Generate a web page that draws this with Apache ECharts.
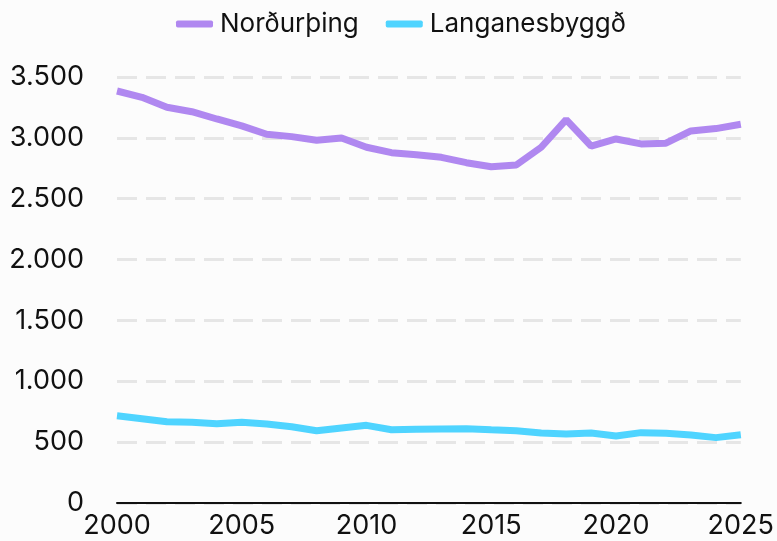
<!DOCTYPE html>
<html><head><meta charset="utf-8">
<script src="https://cdn.jsdelivr.net/npm/echarts@6/dist/echarts.min.js"></script>
<style>html,body{margin:0;padding:0;background:#fcfcfc}#c{width:777px;height:541px}</style>
</head><body><div id="c"></div>
<script>
const years = [2000,2001,2002,2003,2004,2005,2006,2007,2008,2009,2010,2011,2012,2013,2014,2015,2016,2017,2018,2019,2020,2021,2022,2023,2024,2025];
const nordurthing = [3385,3333,3251,3215,3155,3098,3030,3010,2980,2999,2923,2878,2862,2840,2796,2763,2777,2923,3150,2933,2991,2950,2956,3057,3076,3112];
const langanesbyggd = [717,693,668,663,652,663,649,627,594,616,638,602,605,608,611,602,594,575,567,575,551,578,573,559,537,561];
const seriesNames = ['Norðurþing','Langanesbyggð'];
const colors = ['#b088f0','#4fd4ff'];
const fnt = 'Inter, "Noto Sans", sans-serif';
const chart = echarts.init(document.getElementById('c'));
const mk = (arr)=>years.map((y,i)=>[y,arr[i]]);
chart.setOption({
  backgroundColor:'#fcfcfc',
  animation:false,
  legend:{top:6,left:171,itemWidth:37,itemHeight:7,itemGap:27,icon:'roundRect',
    textStyle:{fontFamily:fnt,fontSize:26,color:'#111',padding:[0,0,0,2]}},
  grid:{left:117,right:36,top:77,bottom:38},
  xAxis:{type:'value',min:2000,max:2025,interval:5,
    axisLine:{lineStyle:{color:'#111',width:2}},axisTick:{show:false},splitLine:{show:false},
    axisLabel:{fontFamily:fnt,fontSize:27,color:'#111',margin:9,formatter:v=>String(v)}},
  yAxis:{type:'value',min:0,max:3500,interval:500,
    axisLine:{show:false},axisTick:{show:false},
    splitLine:{lineStyle:{color:'#e6e6e6',width:3,type:[20,9]}},
    axisLabel:{fontFamily:fnt,fontSize:27,color:'#111',margin:33,
      formatter:v=>v.toLocaleString('de-DE')}},
  series:[
    {name:seriesNames[0],type:'line',data:mk(nordurthing),symbol:'none',color:colors[0],lineStyle:{width:7,color:colors[0]}},
    {name:seriesNames[1],type:'line',data:mk(langanesbyggd),symbol:'none',color:colors[1],lineStyle:{width:7,color:colors[1]}}
  ]
});
</script></body></html>
